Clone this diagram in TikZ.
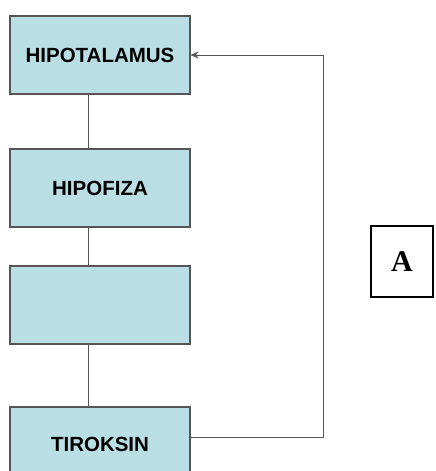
\documentclass[tikz,border=0pt]{standalone}
\usepackage{fontspec}
\setmainfont{Liberation Serif}
\setsansfont{Liberation Sans}
\usepackage{xcolor}
\usetikzlibrary{arrows.meta}

\definecolor{organfill}{RGB}{185,223,228}
\definecolor{edgegray}{RGB}{85,85,85}

\begin{document}
\begin{tikzpicture}[
  x=1pt, y=-1pt,
  every node/.style={font=\sffamily\bfseries\fontsize{20.5}{24}\selectfont},
  organ/.style={draw=edgegray, fill=organfill, line width=1.2pt,
    minimum width=180pt, minimum height=78pt, inner sep=0pt},
  link/.style={draw=edgegray, line width=1pt},
  arrow/.style={link, -{Stealth[length=8pt,width=7pt]}},
]

\clip (0,0) rectangle (436,471);
\fill[white] (0,0) rectangle (436,471);

\node[organ] (hipotalamus) at (100,55) {HIPOTALAMUS};
\node[organ] (hipofiza) at (100,188) {HIPOFIZA};
\node[organ] (kelenjar) at (100,305) {};
\node[organ] (tiroksin) at (100,446) {\raisebox{4pt}{TIROKSIN}};

\node[draw=black, line width=1.6pt, minimum width=62pt, minimum height=71pt,
  font=\rmfamily\bfseries\fontsize{30}{34}\selectfont] (labelA) at (402,261.5) {A};

% vertical chain, a bit left of centre
\coordinate (spine) at (88,0);
\draw[link] (hipotalamus.south -| spine) -- (hipofiza.north -| spine);
\draw[link] (hipofiza.south -| spine) -- (kelenjar.north -| spine);
\draw[link] (kelenjar.south -| spine) -- (tiroksin.north -| spine);

% feedback back to the top
\coordinate (loop) at (323,437);
\draw[arrow] (tiroksin.east |- loop) -- (loop) |- (hipotalamus.east);

\end{tikzpicture}
\end{document}
